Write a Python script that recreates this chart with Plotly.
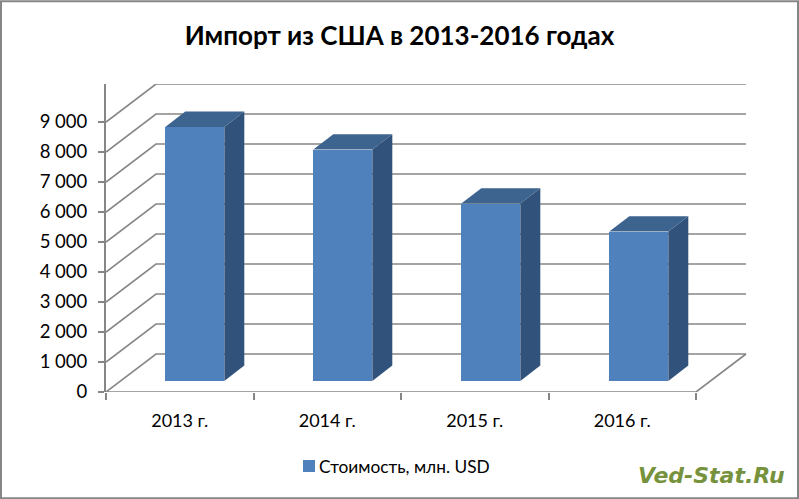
import plotly.graph_objects as go

# Data
categories = ["2013 г.", "2014 г.", "2015 г.", "2016 г."]
values = [8467, 7713, 5913, 4980]
y_ticks = [0, 1000, 2000, 3000, 4000, 5000, 6000, 7000, 8000, 9000]
y_labels = ["0", "1 000", "2 000", "3 000", "4 000", "5 000", "6 000", "7 000", "8 000", "9 000"]
series_name = "Стоимость, млн. USD"
title_text = "Импорт из США в 2013-2016 годах"
watermark = "Ved-Stat.Ru"

# Layout (pixels)
W, H = 799, 499
L, R, T, B = 106, 748, 83.7, 391.7
FONT = "Lato, 'Noto Sans', sans-serif"
GRID = "#868686"

# Oblique projection, in data units
X_MAX = 4 + 42 / 147.5 + 10 / 147.5
Y_MAX = (B - T) / 0.03
FLOOR_DX, FLOOR_DY = 50 / 147.5, 38 / 0.03
BAR_W = 0.4
BAR_DX, BAR_DY = 20 / 147.5, 15.4 / 0.03
BAR_START, BAR_STEP = 0.602, 148 / 147.5
BASE_DY = 11 / 0.03

fig = go.Figure()

# Walls: gridlines running from the axis back and along the wall
for t in y_ticks:
    fig.add_trace(go.Scatter(
        x=[0, FLOOR_DX, 4 + FLOOR_DX], y=[t, t + FLOOR_DY, t + FLOOR_DY],
        mode="lines", line=dict(color=GRID, width=1.6), showlegend=False, hoverinfo="skip",
        xaxis="x", yaxis="y"))
fig.add_trace(go.Scatter(
    x=[0, 4, 4 + FLOOR_DX], y=[0, 0, FLOOR_DY],
    mode="lines", line=dict(color=GRID, width=1.6), showlegend=False, hoverinfo="skip",
    xaxis="x", yaxis="y"))

centers = [BAR_START + i * BAR_STEP for i in range(len(categories))]

# Front faces
fig.add_trace(go.Bar(
    x=centers, y=values, base=BASE_DY, width=BAR_W, name=series_name,
    marker=dict(color="#4f81bd", line=dict(width=0)),
    xaxis="x2", yaxis="y2", showlegend=True))

# Side and top faces
for c, v in zip(centers, values):
    xl, xr = c - BAR_W / 2, c + BAR_W / 2
    y0, y1 = BASE_DY, BASE_DY + v
    fig.add_trace(go.Scatter(
        x=[xr, xr + BAR_DX, xr + BAR_DX, xr, xr],
        y=[y0, y0 + BAR_DY, y1 + BAR_DY, y1, y0],
        mode="lines", fill="toself", fillcolor="#31527a", line=dict(width=0),
        showlegend=False, hoverinfo="skip", xaxis="x2", yaxis="y2"))
    fig.add_trace(go.Scatter(
        x=[xl, xr, xr + BAR_DX, xl + BAR_DX, xl],
        y=[y1, y1, y1 + BAR_DY, y1 + BAR_DY, y1],
        mode="lines", fill="toself", fillcolor="#3d638f", line=dict(width=0),
        showlegend=False, hoverinfo="skip", xaxis="x2", yaxis="y2"))

pw, ph = R - L, B - T

fig.update_layout(
    width=W, height=H,
    margin=dict(l=L, r=W - R, t=T, b=H - B, pad=0),
    paper_bgcolor="white", plot_bgcolor="white",
    font=dict(family=FONT, size=18, color="black"),
    title=dict(text="<b>" + title_text + "</b>", font=dict(size=26, family=FONT, color="black"),
               x=399.5 / W, xanchor="center", y=1 - 36 / H, yanchor="middle"),
    xaxis=dict(range=[0, X_MAX], showgrid=False, zeroline=False,
               tickmode="array", tickvals=[i + 0.5 for i in range(len(categories))],
               ticktext=categories, ticks="", ticklabelstandoff=16,
               minor=dict(tickmode="array", tickvals=list(range(len(categories) + 1)),
                          ticks="outside", ticklen=7, tickwidth=2, tickcolor=GRID, showgrid=False),
               showline=False, tickfont=dict(size=18)),
    yaxis=dict(range=[0, Y_MAX], showgrid=False, zeroline=False,
               tickmode="array", tickvals=y_ticks, ticktext=y_labels,
               ticks="outside", ticklen=6, tickwidth=2, tickcolor=GRID, ticklabelstandoff=7,
               showline=True, linecolor=GRID, linewidth=2, tickfont=dict(size=18.5)),
    xaxis2=dict(range=[0, X_MAX], overlaying="x", visible=False),
    yaxis2=dict(range=[0, Y_MAX], overlaying="y", visible=False),
    bargap=0,
    legend=dict(x=(289 - L) / pw, xanchor="left", y=-(466 - B) / ph, yanchor="middle",
                orientation="h", font=dict(size=17.3), bgcolor="rgba(0,0,0,0)",
                itemsizing="constant", itemwidth=30),
    shapes=[dict(type="rect", xref="paper", yref="paper",
                 x0=(1 - L) / pw, x1=(W - 1 - L) / pw,
                 y0=(B - (H - 1)) / ph, y1=(B - 1) / ph,
                 line=dict(color=GRID, width=2), fillcolor="rgba(0,0,0,0)", layer="above")],
    annotations=[dict(text="<b><i>" + watermark + "</i></b>", xref="paper", yref="paper",
                      x=(787 - L) / pw, xanchor="right", y=(B - 475) / ph, yanchor="middle",
                      showarrow=False, font=dict(size=22, family="'DejaVu Sans', sans-serif", color="#76923c"))],
)

fig.write_html("out.html", config=dict(displayModeBar=False),
               post_script="document.body.style.margin='0';document.querySelectorAll('.legendtext').forEach(function(t){t.setAttribute('x','30');});")
